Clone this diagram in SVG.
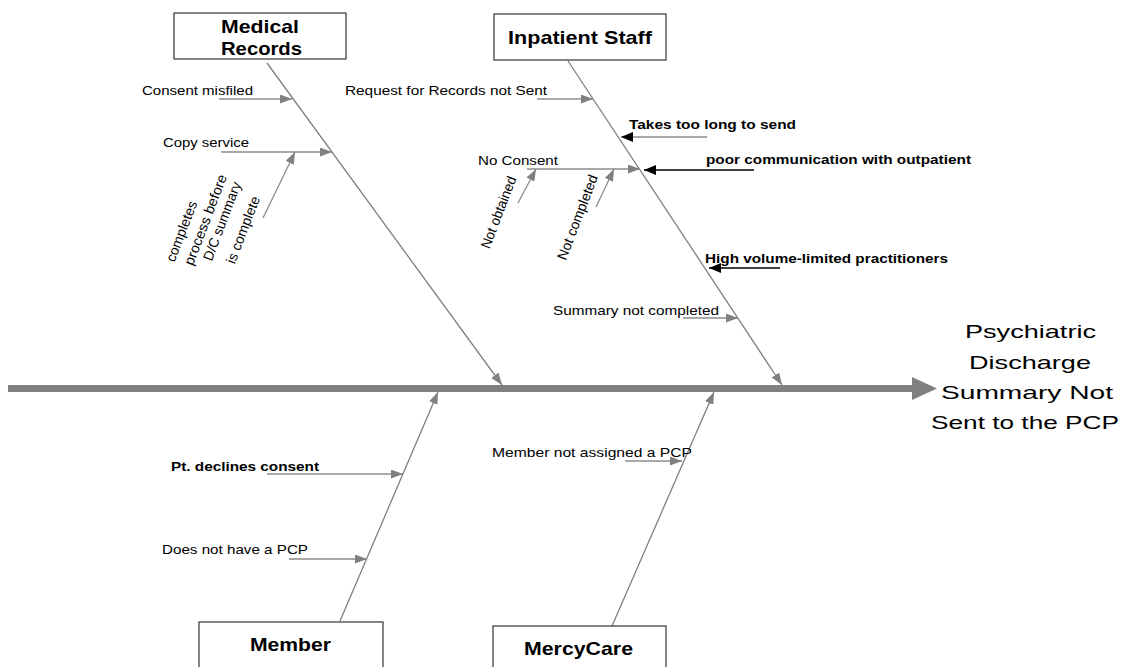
<svg xmlns="http://www.w3.org/2000/svg" width="1133" height="667" viewBox="0 0 1133 667">
<defs>
<style>
.bg{fill:#ffffff}
.box{fill:#ffffff;stroke:#333333;stroke-width:1.2}
.bone{stroke:#808080;stroke-width:1.3;fill:none}
.sub{stroke:#8c8c8c;stroke-width:1.3;fill:none}
.subk{stroke:#000000;stroke-width:1.3;fill:none}
.lbl{font-family:"Liberation Sans",Arial,sans-serif;font-size:13px;fill:#000000}
.blbl{font-family:"Liberation Sans",Arial,sans-serif;font-size:13px;font-weight:bold;fill:#000000}
.rlbl{font-family:"Liberation Sans",Arial,sans-serif;font-size:14px;fill:#000000;text-anchor:middle}
.head{font-family:"Liberation Sans",Arial,sans-serif;font-size:19px;font-weight:bold;fill:#000000;text-anchor:middle}
.effect{font-family:"Liberation Sans",Arial,sans-serif;font-size:19px;fill:#000000;text-anchor:middle}
</style>
<marker id="ag" markerUnits="userSpaceOnUse" markerWidth="12" markerHeight="9" refX="12" refY="4.5" orient="auto">
<path d="M0,0 L12,4.5 L0,9 z" fill="#808080"/>
</marker>
<marker id="ak" markerUnits="userSpaceOnUse" markerWidth="12" markerHeight="10" refX="12" refY="5" orient="auto">
<path d="M0,0 L12,5 L0,10 z" fill="#000000"/>
</marker>
</defs>
<rect class="bg" x="0" y="0" width="1133" height="667"/>

<g id="connectors">
<line x1="8" y1="388.5" x2="913" y2="388.5" stroke="#808080" stroke-width="7"/>
<polygon points="912,377 937,388.5 912,400" fill="#808080"/>
<line class="bone" x1="267" y1="63" x2="502" y2="385" marker-end="url(#ag)"/>
<line class="bone" x1="568" y1="61" x2="782" y2="385" marker-end="url(#ag)"/>
<line class="bone" x1="340" y1="621" x2="438" y2="392" marker-end="url(#ag)"/>
<line class="bone" x1="612" y1="626" x2="714" y2="392" marker-end="url(#ag)"/>
<line class="sub" x1="219" y1="99" x2="292" y2="99" marker-end="url(#ag)"/>
<line class="sub" x1="221" y1="152" x2="332" y2="152" marker-end="url(#ag)"/>
<line class="sub" x1="263" y1="218" x2="295" y2="152" marker-end="url(#ag)"/>
<line class="sub" x1="537" y1="99" x2="593" y2="99" marker-end="url(#ag)"/>
<line class="sub" x1="707" y1="137" x2="621" y2="137" marker-end="url(#ak)"/>
<line class="sub" x1="527" y1="169" x2="640" y2="169" marker-end="url(#ag)"/>
<line class="subk" x1="754" y1="170" x2="644" y2="170" marker-end="url(#ak)"/>
<line class="sub" x1="518" y1="203" x2="536" y2="169" marker-end="url(#ag)"/>
<line class="sub" x1="596" y1="207" x2="614" y2="169" marker-end="url(#ag)"/>
<line class="subk" x1="780" y1="268" x2="709" y2="268" marker-end="url(#ak)"/>
<line class="sub" x1="683" y1="318" x2="738" y2="318" marker-end="url(#ag)"/>
<line class="sub" x1="267" y1="474" x2="403" y2="474" marker-end="url(#ag)"/>
<line class="sub" x1="289" y1="559" x2="367" y2="559" marker-end="url(#ag)"/>
<line class="sub" x1="625" y1="461" x2="682" y2="461" marker-end="url(#ag)"/>
</g>

<g id="node-medical-records">
<rect class="box" x="174" y="13" width="172" height="46"/>
<text class="head" x="260" y="33" textLength="78" lengthAdjust="spacingAndGlyphs">Medical</text>
<text class="head" x="261.5" y="55" textLength="81" lengthAdjust="spacingAndGlyphs">Records</text>
</g>

<g id="node-inpatient-staff">
<rect class="box" x="494" y="14" width="172" height="46"/>
<text class="head" x="580" y="44" textLength="144" lengthAdjust="spacingAndGlyphs">Inpatient Staff</text>
</g>

<g id="node-member">
<rect class="box" x="199" y="622" width="184" height="60"/>
<text class="head" x="290.5" y="651" textLength="81" lengthAdjust="spacingAndGlyphs">Member</text>
</g>

<g id="node-mercycare">
<rect class="box" x="493" y="626" width="173" height="60"/>
<text class="head" x="578.5" y="655" textLength="109" lengthAdjust="spacingAndGlyphs">MercyCare</text>
</g>

<g id="node-effect">
<text class="effect" x="1030.5" y="338" textLength="131" lengthAdjust="spacingAndGlyphs">Psychiatric</text>
<text class="effect" x="1030" y="368.5" textLength="122" lengthAdjust="spacingAndGlyphs">Discharge</text>
<text class="effect" x="1027" y="399" textLength="172" lengthAdjust="spacingAndGlyphs">Summary Not</text>
<text class="effect" x="1025" y="429" textLength="188" lengthAdjust="spacingAndGlyphs">Sent to the PCP</text>
</g>

<g id="cause-labels">
<text class="lbl" x="142" y="95" textLength="111" lengthAdjust="spacingAndGlyphs">Consent misfiled</text>
<text class="lbl" x="163" y="147" textLength="86" lengthAdjust="spacingAndGlyphs">Copy service</text>
<text class="rlbl" transform="translate(186,233) rotate(-69)" textLength="64" lengthAdjust="spacingAndGlyphs">completes</text>
<text class="rlbl" transform="translate(210,221.5) rotate(-69)" textLength="96" lengthAdjust="spacingAndGlyphs">process before</text>
<text class="rlbl" transform="translate(226.5,223) rotate(-69)" textLength="83" lengthAdjust="spacingAndGlyphs">D/C summary</text>
<text class="rlbl" transform="translate(247.5,231.5) rotate(-69)" textLength="71" lengthAdjust="spacingAndGlyphs">is complete</text>

<text class="lbl" x="345" y="95" textLength="202" lengthAdjust="spacingAndGlyphs">Request for Records not Sent</text>
<text class="blbl" x="629" y="129" textLength="167" lengthAdjust="spacingAndGlyphs">Takes too long to send</text>
<text class="lbl" x="478" y="165" textLength="80" lengthAdjust="spacingAndGlyphs">No Consent</text>
<text class="blbl" x="706" y="164" textLength="265" lengthAdjust="spacingAndGlyphs">poor communication with outpatient</text>
<text class="rlbl" transform="translate(503,214) rotate(-69)" textLength="76" lengthAdjust="spacingAndGlyphs">Not obtained</text>
<text class="rlbl" transform="translate(582,219) rotate(-69)" textLength="90" lengthAdjust="spacingAndGlyphs">Not completed</text>
<text class="blbl" x="705" y="263" textLength="243" lengthAdjust="spacingAndGlyphs">High volume-limited practitioners</text>
<text class="lbl" x="553" y="315" textLength="166" lengthAdjust="spacingAndGlyphs">Summary not completed</text>

<text class="blbl" x="171" y="471" textLength="148" lengthAdjust="spacingAndGlyphs">Pt. declines consent</text>
<text class="lbl" x="162" y="554" textLength="146" lengthAdjust="spacingAndGlyphs">Does not have a PCP</text>
<text class="lbl" x="492" y="457" textLength="200" lengthAdjust="spacingAndGlyphs">Member not assigned a PCP</text>
</g>
</svg>
